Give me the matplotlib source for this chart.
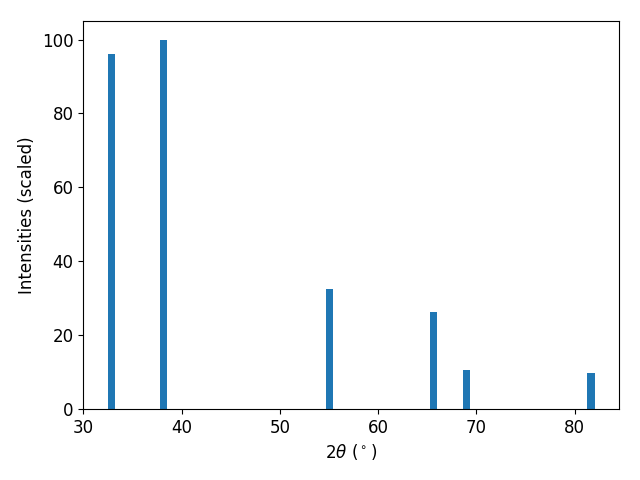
import matplotlib
matplotlib.use("Agg")
import matplotlib.pyplot as plt

two_theta = [32.85, 38.15, 55.05, 65.64, 69.0, 81.63]
intensity = [96.0, 100.0, 32.5, 26.3, 10.5, 9.8]

plt.rcParams['font.size'] = 12

fig, ax = plt.subplots(figsize=(6.4, 4.8), dpi=100)
ax.bar(two_theta, intensity, width=0.8)
ax.set_xlabel(r'2$\theta$ ($^\circ$)')
ax.set_ylabel('Intensities (scaled)')
fig.subplots_adjust(left=0.13, right=0.967, top=0.956, bottom=0.148)
fig.savefig("out.png")
